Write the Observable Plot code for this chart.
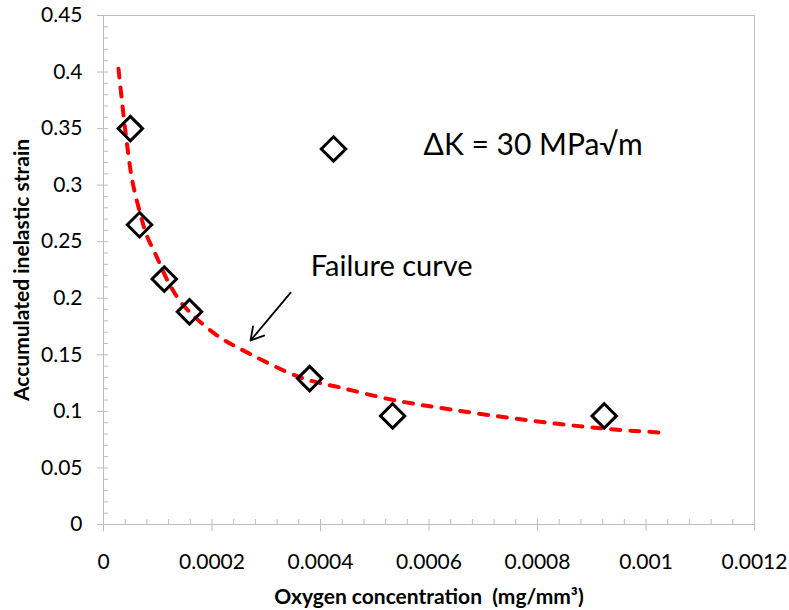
<!DOCTYPE html>
<html><head><meta charset="utf-8">
<script src="https://cdn.jsdelivr.net/npm/d3@7"></script>
<script src="https://cdn.jsdelivr.net/npm/@observablehq/plot@0.6"></script>
<style>
body{margin:0;background:#fff;}
#chart svg{font-family:Lato, "Open Sans", sans-serif;}
g[aria-label="x-axis label"] text, g[aria-label="y-axis label"] text{font-weight:bold;font-size:21px;white-space:pre;}
</style></head><body><div id="chart"></div>
<script>
// observed points
const obsX = [0.0000495, 0.0000664, 0.000112, 0.0001585, 0.00038, 0.000533, 0.000923];
const obsY = [0.350, 0.265, 0.217, 0.188, 0.129, 0.096, 0.096];
// failure curve
const curveX = [0.0000276, 0.0000369, 0.0000442, 0.0000535, 0.0000682, 0.0000793, 0.0000977, 0.0001198, 0.0001419, 0.0001714, 0.000216, 0.000253, 0.000363, 0.000437, 0.000535, 0.00064, 0.000769, 0.000916, 0.001027];
const curveY = [0.403, 0.362, 0.333, 0.303, 0.274, 0.256, 0.237, 0.214, 0.197, 0.182, 0.165, 0.155, 0.130, 0.121, 0.110, 0.1017, 0.093, 0.085, 0.0813];
const xTicks = [0, 0.0002, 0.0004, 0.0006, 0.0008, 0.001, 0.0012];
const xTickLabels = ["0", "0.0002", "0.0004", "0.0006", "0.0008", "0.001", "0.0012"];
const yTicks = [0, 0.05, 0.1, 0.15, 0.2, 0.25, 0.3, 0.35, 0.4, 0.45];
const yTickLabels = ["0", "0.05", "0.1", "0.15", "0.2", "0.25", "0.3", "0.35", "0.4", "0.45"];
const xLabel = "Oxygen concentration  (mg/mm³)";
const yLabel = "Accumulated inelastic strain";
const legendText = "ΔK = 30 MPa√m";
const annotationText = "Failure curve";

const obs = obsX.map((x, i) => ({x, y: obsY[i]}));
const curve = curveX.map((x, i) => ({x, y: curveY[i]}));
const xMinor = d3.range(0, 31).map(i => i * 0.00004);
const yMinor = d3.range(0, 46).map(i => i * 0.01);
const gray = "#bdbdbd";

const chart = Plot.plot({
  width: 789, height: 610,
  marginLeft: 103, marginRight: 35, marginTop: 15, marginBottom: 86,
  x: {domain: [0, 0.0012]},
  y: {domain: [0, 0.45]},
  style: {fontFamily: "Lato, sans-serif", fontSize: "21px", color: "#000", background: "#fff"},
  marks: [
    Plot.frame({stroke: gray}),
    Plot.axisX({ticks: xMinor, tickSize: -5, text: null, stroke: gray, label: null}),
    Plot.axisY({ticks: yMinor, tickSize: -5, text: null, stroke: gray, label: null}),
    Plot.axisX({ticks: xTicks, tickSize: 7, tickPadding: 23, stroke: gray, fill: "#000",
      tickFormat: d => xTickLabels[xTicks.indexOf(d)],
      label: xLabel, labelAnchor: "center", labelOffset: 79, labelArrow: "none"}),
    Plot.axisY({ticks: yTicks, tickSize: 6, tickPadding: 15, stroke: gray, fill: "#000",
      tickFormat: d => yTickLabels[yTicks.indexOf(d)],
      label: yLabel, labelAnchor: "center", labelOffset: 89, labelArrow: "none"}),
    Plot.line(curve, {x: "x", y: "y", stroke: "#ff0000", strokeWidth: 4, strokeDasharray: "9,10",
      strokeLinecap: "round", curve: "catmull-rom"}),
    Plot.dot(obs, {x: "x", y: "y", symbol: "diamond2", r: 11, stroke: "#000", strokeWidth: 3, fill: "none"}),
    Plot.dot([legendText], {x: 0.000424, y: 0.332, symbol: "diamond2", r: 11, stroke: "#000", strokeWidth: 3, fill: "none"}),
    Plot.text([legendText], {x: 0.00059, y: 0.335, text: d => d, textAnchor: "start", fontSize: 30, fill: "#000"}),
    Plot.text([annotationText], {x: 0.000382, y: 0.228, text: d => d, textAnchor: "start", fontSize: 29, fill: "#000"}),
    Plot.arrow([annotationText], {x1: 0.000345, y1: 0.205, x2: 0.000271, y2: 0.1627, stroke: "#000", strokeWidth: 1.8, headLength: 12})
  ]
});
document.getElementById("chart").appendChild(chart);
</script>
</body></html>
